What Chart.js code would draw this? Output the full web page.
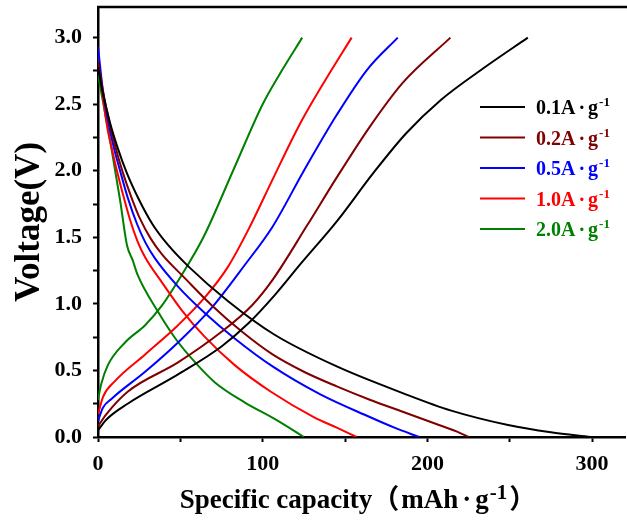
<!DOCTYPE html>
<html lang="en">
<head>
<meta charset="UTF-8">
<title>Charge/discharge profiles</title>
<script src="https://cdn.jsdelivr.net/npm/chart.js"></script>
<style>
  html, body { margin: 0; padding: 0; background: #fff; overflow: hidden; }
  .chart-box { width: 627px; height: 521px; position: relative; }
</style>
</head>
<body>
<div class="chart-box"><canvas id="gcd" width="627" height="521"></canvas></div>
<script>
// current densities and their colours
const rates = ['0.1', '0.2', '0.5', '1.0', '2.0'];
const colors = ['#000000', '#800000', '#0000ff', '#ff0000', '#008000'];

// discharge branches: [capacity (mAh/g), voltage (V)]
const dis01 = [[0,2.78],[3,2.58],[7.3,2.36],[12,2.17],[17.6,1.98],[25,1.78],[33,1.6],[42,1.45],[55,1.28],[79,1.02],[107,0.77],[145,0.53],[185,0.33],[214,0.2],[249,0.09],[275,0.035],[299,0]];
const dis02 = [[0,2.82],[3,2.6],[7,2.36],[11,2.16],[15,1.99],[20,1.81],[25.5,1.64],[32,1.49],[39,1.37],[53,1.19],[69,0.99],[87.5,0.79],[106,0.62],[125,0.49],[145,0.38],[165,0.28],[185,0.19],[205,0.1],[218,0.04],[225,0]];
const dis05 = [[0,2.93],[3,2.6],[6,2.38],[9.5,2.18],[13.4,2.0],[18,1.8],[23.7,1.6],[28.8,1.46],[34.7,1.34],[48.6,1.13],[65,0.93],[83,0.74],[106,0.53],[135,0.32],[165,0.15],[180,0.07],[195,0]];
const dis10 = [[0,2.88],[3,2.55],[6,2.3],[8.7,2.15],[11.5,2.0],[15,1.83],[19.5,1.63],[24,1.47],[28.6,1.35],[38.9,1.16],[51,0.95],[65,0.75],[83,0.54],[105,0.34],[131,0.15],[145,0.07],[157,0]];
const dis20 = [[0,2.72],[7.3,2.23],[13.4,1.78],[17.6,1.44],[21,1.33],[24,1.22],[36,0.95],[47,0.74],[59,0.56],[71,0.41],[89,0.26],[108,0.13],[125,0]];

// charge branches
const chg01 = [[0,0.05],[5,0.13],[18,0.25],[48.6,0.47],[75,0.68],[91,0.85],[107.6,1.07],[123,1.3],[145,1.62],[167,1.98],[187,2.28],[208,2.53],[234,2.77],[261,3.0]];
const chg02 = [[0,0.08],[5,0.17],[18,0.34],[48.6,0.56],[75,0.79],[93.6,0.99],[106,1.18],[127,1.59],[145,1.95],[165,2.33],[185,2.66],[214,3.0]];
const chg05 = [[0,0.12],[3,0.22],[8.5,0.29],[28.6,0.49],[48.6,0.71],[69,0.97],[89,1.29],[106,1.58],[125,2.0],[145,2.42],[163.5,2.76],[182,3.0]];
const chg10 = [[0,0.17],[3,0.3],[10.3,0.42],[28.6,0.62],[48.6,0.84],[65,1.05],[79,1.28],[91,1.55],[107,1.96],[123,2.36],[138,2.68],[154,3.0]];
const chg20 = [[0,0.28],[2,0.4],[6,0.54],[16.4,0.71],[28.6,0.84],[39,0.99],[51,1.22],[64,1.5],[82,2.0],[100,2.5],[112,2.76],[124,3.0]];

const xTicks = [0, 100, 200, 300];
const yTicks = [0, 0.5, 1, 1.5, 2, 2.5, 3];

const discharge = [dis01, dis02, dis05, dis10, dis20];
const charge = [chg01, chg02, chg05, chg10, chg20];

const serif = "'Liberation Serif', 'Times New Roman', serif";
const cjk = "'Noto Sans CJK SC', sans-serif";

// build datasets, two branches per current density
const datasets = [];
rates.forEach((r, i) => {
    [discharge[i], charge[i]].forEach(branch => {
        datasets.push({
            label: r,
            data: branch.map(p => ({ x: p[0], y: p[1] })),
            showLine: true,
            borderColor: colors[i],
            borderWidth: 2,
            pointRadius: 0,
            cubicInterpolationMode: 'monotone'
        });
    });
});

// draw pieces of text (with superscripts) one after another
function drawParts(ctx, parts, x, y, align) {
    let total = 0;
    parts.forEach(p => { ctx.font = p.font; total += ctx.measureText(p.text).width + (p.gap || 0); });
    let cx = align === 'center' ? x - total / 2 : x;
    ctx.textBaseline = 'alphabetic';
    ctx.textAlign = 'left';
    parts.forEach(p => {
        ctx.font = p.font;
        ctx.fillText(p.text, cx, y + (p.dy || 0));
        cx += ctx.measureText(p.text).width + (p.gap || 0);
    });
}

const decorations = {
    id: 'decorations',
    afterDraw(chart) {
        const ctx = chart.ctx;
        const area = chart.chartArea;
        ctx.save();
        // top frame line
        ctx.strokeStyle = '#000';
        ctx.lineWidth = 2.5;
        ctx.beginPath();
        ctx.moveTo(area.left - 1, area.top);
        ctx.lineTo(chart.width, area.top);
        ctx.stroke();

        // legend
        rates.forEach((r, i) => {
            const y = 107 + i * 30.5;
            ctx.strokeStyle = colors[i];
            ctx.lineWidth = 2;
            ctx.beginPath();
            ctx.moveTo(480, y);
            ctx.lineTo(525, y);
            ctx.stroke();
            ctx.fillStyle = colors[i];
            drawParts(ctx, [
                { text: r + 'A', font: 'bold 20px ' + serif, gap: 3 },
                { text: '·', font: 'bold 20px ' + serif, gap: 3 },
                { text: 'g', font: 'bold 20px ' + serif, gap: 1 },
                { text: '-1', font: 'bold 13px ' + serif, dy: -8 }
            ], 536, y + 7, 'left');
        });

        // x axis title
        ctx.fillStyle = '#000';
        drawParts(ctx, [
            { text: 'Specific capacity', font: 'bold 27px ' + serif },
            { text: '（', font: 'bold 27px ' + cjk, gap: 2 },
            { text: 'mAh', font: 'bold 27px ' + serif, gap: 4 },
            { text: '·', font: 'bold 27px ' + serif, gap: 4 },
            { text: 'g', font: 'bold 27px ' + serif, gap: 1 },
            { text: '-1', font: 'bold 21px ' + serif, dy: -9, gap: 2 },
            { text: '）', font: 'bold 27px ' + cjk }
        ], 358, 508, 'center');
        ctx.restore();
    }
};

new Chart(document.getElementById('gcd'), {
    type: 'scatter',
    data: { datasets: datasets },
    options: {
        responsive: false,
        animation: false,
        layout: { padding: { top: 7, right: 2, left: 0, bottom: 0 } },
        plugins: {
            legend: { display: false },
            tooltip: { enabled: false }
        },
        scales: {
            x: {
                type: 'linear',
                min: 0,
                max: 320,
                afterFit: s => { s.height = 84; s.paddingLeft = 0; s.paddingRight = 0; },
                border: { display: true, color: '#000', width: 2.5 },
                grid: { drawOnChartArea: false, drawTicks: true, tickLength: 5, tickWidth: 2, tickColor: '#000' },
                ticks: {
                    stepSize: 50,
                    includeBounds: false,
                    maxRotation: 0,
                    autoSkip: false,
                    padding: 9,
                    color: '#000',
                    font: { family: serif, size: 22, weight: 'bold' },
                    callback: v => xTicks.includes(v) ? String(v) : ''
                }
            },
            y: {
                min: 0,
                max: 3.23,
                afterFit: s => { s.width = 98; s.paddingTop = 0; s.paddingBottom = 0; },
                border: { display: true, color: '#000', width: 2.5 },
                grid: { drawOnChartArea: false, drawTicks: true, tickLength: 5, tickWidth: 2, tickColor: '#000' },
                ticks: {
                    stepSize: 0.25,
                    includeBounds: false,
                    autoSkip: false,
                    padding: 11,
                    color: '#000',
                    font: { family: serif, size: 22, weight: 'bold' },
                    callback: v => yTicks.includes(v) ? v.toFixed(1) : ''
                },
                title: {
                    display: true,
                    text: 'Voltage(V)',
                    color: '#000',
                    font: { family: serif, size: 35, weight: 'bold' },
                    padding: { top: 9, bottom: 0 }
                }
            }
        }
    },
    plugins: [decorations]
});
</script>
</body>
</html>
